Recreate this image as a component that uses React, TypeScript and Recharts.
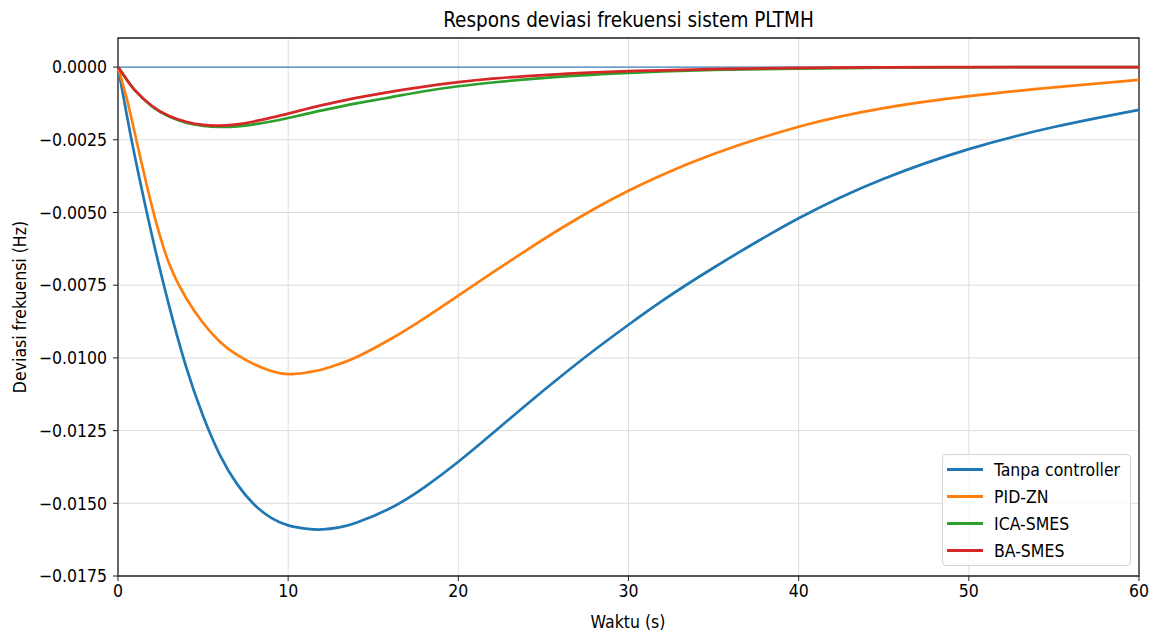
import React from "react";
import { CartesianGrid, Label, Legend, Line, LineChart, ReferenceArea, ReferenceLine, XAxis, YAxis } from "recharts";

const FONT = "'DejaVu Sans Condensed', 'DejaVu Sans', sans-serif";

// waktu (s)
const waktu = [0, 0.5, 1, 2, 3, 4, 5, 6, 7, 8, 9, 10, 11, 12, 13, 14, 16, 18, 20, 22, 24, 26, 28, 30, 32, 35, 40, 45, 50, 55, 60];

const tanpaController = [
  0, -0.0016, -0.0031, -0.0058, -0.0082, -0.0103, -0.012, -0.01335, -0.01434, -0.01504, -0.0155, -0.01576, -0.01587,
  -0.0159, -0.01583, -0.01567, -0.01517, -0.01445, -0.01357, -0.0126, -0.01161, -0.01065, -0.00973, -0.00886,
  -0.00803, -0.0069, -0.0052, -0.00384, -0.00282, -0.00206, -0.00147,
];
const pidZn = [
  0, -0.00105, -0.0023, -0.0048, -0.00675, -0.00794, -0.0088, -0.00945, -0.0099, -0.01022, -0.01045, -0.01056, -0.01051,
  -0.0104, -0.01021, -0.00998, -0.00936, -0.00864, -0.00786, -0.00707, -0.0063, -0.00556, -0.00487, -0.00425,
  -0.0037, -0.00299, -0.00205, -0.00141, -0.001, -0.0007, -0.00044,
];
const icaSmes = [
  0, -0.00042, -0.0008, -0.00135, -0.0017, -0.00191, -0.00202, -0.00206, -0.00204, -0.00197, -0.00187, -0.00175,
  -0.00162, -0.00149, -0.00137, -0.00125, -0.00104, -0.00083, -0.00066, -0.00053, -0.00042, -0.00033, -0.00026,
  -0.0002, -0.00015, -0.0001, -0.00005, -0.00002, -0.00001, 0, 0,
];
const baSmes = [
  0, -0.00042, -0.0008, -0.00134, -0.00168, -0.00188, -0.00199, -0.00201, -0.00197, -0.00187, -0.00174, -0.0016,
  -0.00145, -0.00131, -0.00118, -0.00106, -0.00085, -0.00067, -0.00052, -0.0004, -0.00031, -0.00024, -0.00018,
  -0.00014, -0.00011, -0.00007, -0.00003, -0.00001, 0, 0, 0,
];

const seriesNames = ["Tanpa controller", "PID-ZN", "ICA-SMES", "BA-SMES"];
const xTicks = [0, 10, 20, 30, 40, 50, 60];
const yTicks = [0, -0.0025, -0.005, -0.0075, -0.01, -0.0125, -0.015, -0.0175];

const data = waktu.map((t, i) => ({
  t,
  tanpa: tanpaController[i],
  pid: pidZn[i],
  ica: icaSmes[i],
  ba: baSmes[i],
}));

const fmtY = (v: number) => (Math.abs(v) < 1e-12 ? "0.0000" : (v < 0 ? "\u2212" : "") + Math.abs(v).toFixed(4));

function LegendBox(props: any) {
  const items = [...(props.payload || [])].sort(
    (a: any, b: any) => seriesNames.indexOf(a.value) - seriesNames.indexOf(b.value)
  );
  return (
    <div
      style={{
        width: 189,
        height: 112,
        boxSizing: "border-box",
        background: "rgba(255,255,255,0.8)",
        border: "1px solid #d4d4d4",
        borderRadius: 4,
        padding: "1px 4px",
        fontFamily: FONT,
        fontSize: 17.5,
        color: "#000",
      }}
    >
      {items.map((p: any) => (
        <div key={p.value} style={{ display: "flex", alignItems: "center", height: 27 }}>
          <span style={{ display: "inline-block", width: 36, borderTop: `3px solid ${p.color}`, marginRight: 11 }} />
          <span>{p.value}</span>
        </div>
      ))}
    </div>
  );
}

export default function App() {
  const tick = { fontSize: 17.5, fill: "#000", fontFamily: FONT };
  return (
    <div style={{ position: "absolute", left: 0, top: 0, width: 1153, height: 632, background: "#fff", fontFamily: FONT }}>
      <div
        style={{
          position: "absolute",
          left: 118,
          width: 1021,
          top: 7,
          textAlign: "center",
          fontSize: 20.5,
          lineHeight: "26px",
          color: "#000",
        }}
      >
        Respons deviasi frekuensi sistem PLTMH
      </div>
      <LineChart width={1153} height={632} data={data} margin={{ top: 38, right: 14, bottom: 0, left: 0 }}>
        <CartesianGrid stroke="#dcdcdc" strokeWidth={1} />
        <XAxis
          dataKey="t"
          type="number"
          domain={[0, 60]}
          ticks={xTicks}
          height={56}
          tick={tick}
          tickSize={5}
          tickMargin={4}
          axisLine={false}
          tickLine={{ stroke: "#222" }}
        >
          <Label
            content={() => (
              <text x={628} y={628} textAnchor="middle" fontSize={17.5} fontFamily={FONT} fill="#000">
                Waktu (s)
              </text>
            )}
          />
        </XAxis>
        <YAxis
          type="number"
          domain={[-0.0175, 0.001]}
          ticks={yTicks}
          allowDataOverflow
          width={118}
          tick={tick}
          tickFormatter={fmtY}
          tickSize={5}
          tickMargin={6}
          axisLine={false}
          tickLine={{ stroke: "#222" }}
        >
          <Label
            content={() => (
              <text
                x={26}
                y={307}
                transform="rotate(-90 26 307)"
                textAnchor="middle"
                fontSize={17.5}
                fontFamily={FONT}
                fill="#000"
              >
                Deviasi frekuensi (Hz)
              </text>
            )}
          />
        </YAxis>
        <ReferenceLine y={0} stroke="#3d85c0" strokeWidth={1.3} />
        <Line type="natural" dataKey="tanpa" name="Tanpa controller" stroke="#1f77b4" strokeWidth={2.7} dot={false} isAnimationActive={false} />
        <Line type="natural" dataKey="pid" name="PID-ZN" stroke="#ff7f0e" strokeWidth={2.7} dot={false} isAnimationActive={false} />
        <Line type="natural" dataKey="ica" name="ICA-SMES" stroke="#2ca02c" strokeWidth={2.7} dot={false} isAnimationActive={false} />
        <Line type="natural" dataKey="ba" name="BA-SMES" stroke="#d62728" strokeWidth={2.7} dot={false} isAnimationActive={false} />
        <ReferenceArea x1={0} x2={60} y1={-0.0175} y2={0.001} fill="none" stroke="#222" strokeWidth={1.3} />
        <Legend
          layout="vertical"
          align="center"
          verticalAlign="middle"
          content={LegendBox}
          wrapperStyle={{ position: "absolute", left: 942, top: 454, width: 189, height: 112 }}
        />
      </LineChart>
    </div>
  );
}
